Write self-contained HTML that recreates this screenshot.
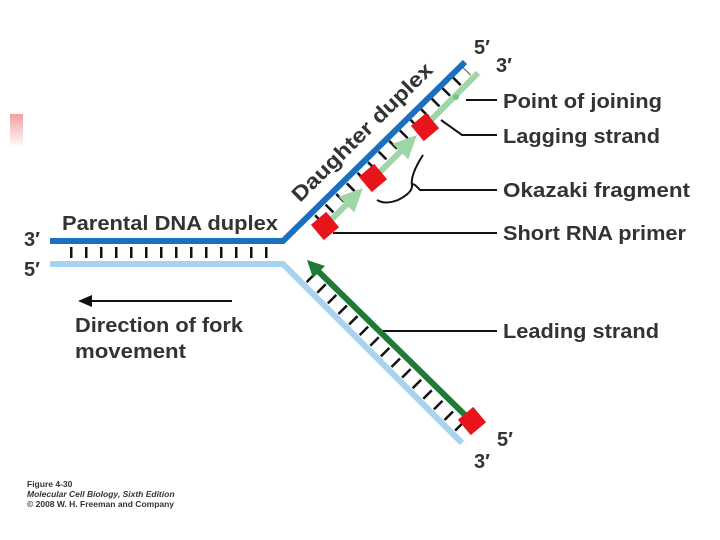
<!DOCTYPE html>
<html><head><style>
body{margin:0;background:#fff;}
svg{display:block;}
text{font-family:"Liberation Sans",sans-serif;font-weight:bold;fill:#333;}
</style></head><body>
<svg width="720" height="540" viewBox="0 0 720 540">
<defs><linearGradient id="pk" x1="0" y1="0" x2="0" y2="1"><stop offset="0" stop-color="#f0a0a0"/><stop offset="1" stop-color="#fff"/></linearGradient></defs>
<rect x="10" y="114" width="13" height="34" fill="url(#pk)"/>
<!-- ticks -->
<line x1="70" y1="252.5" x2="275" y2="252.5" stroke="#111" stroke-width="11" stroke-dasharray="2.5 12.5"/>
<line x1="318" y1="220" x2="467" y2="71" stroke="#111" stroke-width="11" stroke-dasharray="2.5 12.5"/>
<line x1="310" y1="277" x2="467" y2="434" stroke="#111" stroke-width="12" stroke-dasharray="2.5 12.5"/>
<!-- strands -->
<polyline points="50,241 283,241 465,62" fill="none" stroke="#1a6fc0" stroke-width="6"/>
<polyline points="50,264 283,264 462,443" fill="none" stroke="#a6d3f0" stroke-width="6"/>
<!-- lagging light green -->
<g stroke="#9fd6a8" stroke-width="6" fill="#9fd6a8">
<line x1="330" y1="221" x2="350" y2="201"/>
<polygon points="358,193 344,198 353,207"/>
<line x1="380" y1="172" x2="404" y2="148"/>
<polygon points="412,140 398,145 407,154"/>
<line x1="430" y1="121" x2="478" y2="73"/>
</g>
<circle cx="456" cy="97" r="3" fill="#7cbf88"/>
<!-- leading -->
<line x1="466" y1="416" x2="318" y2="271" stroke="#1e7a35" stroke-width="6"/>
<polygon points="307,260 325,266 313,278" fill="#1e7a35"/>
<!-- red primers -->
<g fill="#e8141c">
<rect x="-10" y="-10" width="20" height="20" transform="translate(325,226) rotate(-40)"/>
<rect x="-10" y="-10" width="20" height="20" transform="translate(373,178) rotate(-40)"/>
<rect x="-10" y="-10" width="20" height="20" transform="translate(425,127) rotate(-40)"/>
<rect x="-10" y="-10" width="20" height="20" transform="translate(472,421) rotate(-40)"/>
</g>
<!-- leaders -->
<g stroke="#111" stroke-width="2" fill="none">
<line x1="466" y1="100" x2="497" y2="100"/>
<polyline points="441,120 462,135 497,135"/>
<path d="M377,200 Q385,205 398,200 Q412,193 412,186 Q412,181 420,190 L497,190"/>
<path d="M412,186 Q410,175 423,155"/>
<line x1="333" y1="233" x2="497" y2="233"/>
<line x1="383" y1="331" x2="497" y2="331"/>
<line x1="88" y1="301" x2="232" y2="301"/>
</g>
<polygon points="78,301 92,295 92,307" fill="#111"/>
<!-- labels -->
<g font-size="20">
<text x="503" y="108" textLength="159" lengthAdjust="spacingAndGlyphs">Point of joining</text>
<text x="503" y="143" textLength="157" lengthAdjust="spacingAndGlyphs">Lagging strand</text>
<text x="503" y="197" textLength="187" lengthAdjust="spacingAndGlyphs">Okazaki fragment</text>
<text x="503" y="240" textLength="183" lengthAdjust="spacingAndGlyphs">Short RNA primer</text>
<text x="503" y="338" textLength="156" lengthAdjust="spacingAndGlyphs">Leading strand</text>
<text x="62" y="230" textLength="216" lengthAdjust="spacingAndGlyphs">Parental DNA duplex</text>
<text x="75" y="332" textLength="168" lengthAdjust="spacingAndGlyphs">Direction of fork</text>
<text x="75" y="358" textLength="111" lengthAdjust="spacingAndGlyphs">movement</text>
<text x="0" y="0" transform="translate(300,203) rotate(-44.5)" font-size="21" textLength="188" lengthAdjust="spacingAndGlyphs">Daughter duplex</text>
</g>
<g font-size="20">
<text x="474" y="54">5′</text>
<text x="496" y="72">3′</text>
<text x="24" y="246">3′</text>
<text x="24" y="276">5′</text>
<text x="497" y="446">5′</text>
<text x="474" y="468">3′</text>
</g>
<text x="27" y="487" font-size="8.5">Figure 4-30</text>
<text x="27" y="497" font-size="8.5" font-style="italic">Molecular Cell Biology, Sixth Edition</text>
<text x="27" y="507" font-size="8.5" font-weight="normal">© 2008 W. H. Freeman and Company</text>
</svg>
</body></html>
